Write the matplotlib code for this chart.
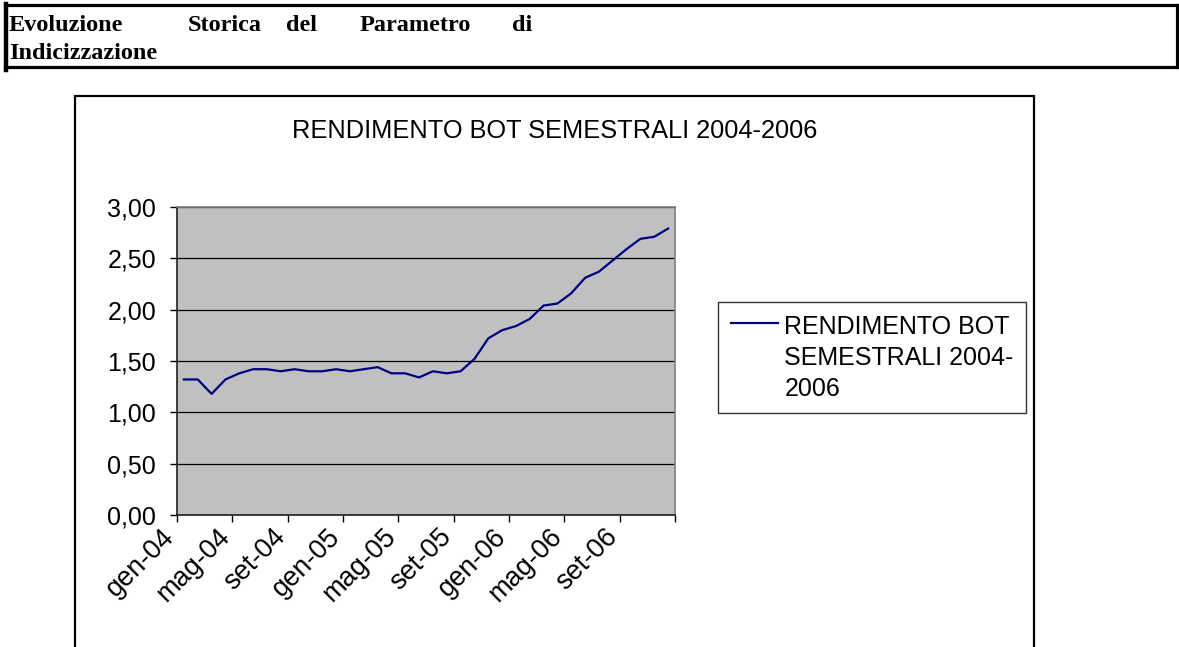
import matplotlib
matplotlib.use("Agg")
import matplotlib.pyplot as plt
import numpy as np
from matplotlib.patches import Rectangle
from matplotlib.lines import Line2D
from matplotlib.ticker import FuncFormatter
from matplotlib.legend_handler import HandlerLine2D
import matplotlib.transforms as mtransforms

# ---- data ----
months = ["gen-04", "feb-04", "mar-04", "apr-04", "mag-04", "giu-04",
          "lug-04", "ago-04", "set-04", "ott-04", "nov-04", "dic-04",
          "gen-05", "feb-05", "mar-05", "apr-05", "mag-05", "giu-05",
          "lug-05", "ago-05", "set-05", "ott-05", "nov-05", "dic-05",
          "gen-06", "feb-06", "mar-06", "apr-06", "mag-06", "giu-06",
          "lug-06", "ago-06", "set-06", "ott-06", "nov-06", "dic-06"]
rendimento = [1.32, 1.32, 1.18, 1.32, 1.38, 1.42, 1.42, 1.40, 1.42, 1.40,
              1.40, 1.42, 1.40, 1.42, 1.44, 1.38, 1.38, 1.34, 1.40, 1.38,
              1.40, 1.52, 1.72, 1.80, 1.84, 1.91, 2.04, 2.06, 2.16, 2.31,
              2.37, 2.48, 2.59, 2.69, 2.71, 2.79]
series_name = "RENDIMENTO BOT SEMESTRALI 2004-2006"
legend_label = "RENDIMENTO BOT\nSEMESTRALI 2004-\n2006"
yticks = [0.0, 0.5, 1.0, 1.5, 2.0, 2.5, 3.0]
header_words = ["Evoluzione", "Storica", "del", "Parametro", "di"]
header_line2 = "Indicizzazione"

W, H = 1179, 647
fig = plt.figure(figsize=(W / 100, H / 100), dpi=100)
fig.patch.set_facecolor("white")

def fx(px):
    return px / W

def fy(py):
    return 1 - py / H

# ---- header box ----
hdr_color = "black"
fig.add_artist(Line2D([fx(5), fx(1177)], [fy(5), fy(5)], color=hdr_color, lw=2.3))
fig.add_artist(Line2D([fx(5), fx(1177)], [fy(67), fy(67)], color=hdr_color, lw=2.3))
fig.add_artist(Line2D([fx(1177), fx(1177)], [fy(5), fy(67)], color=hdr_color, lw=2.3))
fig.add_artist(Line2D([fx(6), fx(6)], [fy(4), fy(70)], color=hdr_color, lw=3.2))

hdr_x = [9, 188, 286, 360, 512]
hdr_font = dict(family="Liberation Serif", weight="bold", size=17.5, color="black")
for w, x in zip(header_words, hdr_x):
    fig.text(fx(x), fy(31), w, ha="left", va="baseline", **hdr_font)
fig.text(fx(9), fy(59), header_line2, ha="left", va="baseline", **hdr_font)

# ---- chart box ----
fig.add_artist(Rectangle((fx(75), fy(660)), fx(1034) - fx(75), fy(96) - fy(660),
                         fill=False, edgecolor="black", lw=1.6))

fig.text(fx(555), fy(131), series_name, ha="center", va="center",
         family="Liberation Sans", size=18.3, color="black")

# ---- axes ----
left, right, top, bottom = 177, 675, 207, 515
ax = fig.add_axes([fx(left), fy(bottom), fx(right) - fx(left), fy(top) - fy(bottom)])
ax.set_facecolor("#C0C0C0")

n = len(rendimento)
x = np.arange(n) + 0.5
ax.plot(x, rendimento, color="#000080", lw=1.6, label=legend_label, zorder=3)

ax.set_xlim(0, n)
ax.set_ylim(0, 3)
ax.set_yticks(yticks)
ax.yaxis.set_major_formatter(FuncFormatter(lambda v, p: f"{v:.2f}".replace(".", ",")))
ax.grid(axis="y", color="black", lw=0.9)
ax.set_axisbelow(True)

xt = np.arange(0, n + 1, 4)
ax.set_xticks(xt)
ax.set_xticklabels([months[i] if i < n else "" for i in xt])

for s in ["top", "right"]:
    ax.spines[s].set_color("#808080")
    ax.spines[s].set_linewidth(1.2)
for s in ["left", "bottom"]:
    ax.spines[s].set_color("#202020")
    ax.spines[s].set_linewidth(1.2)

ax.tick_params(axis="y", direction="out", length=5, width=1, color="black",
               labelsize=18, pad=10)
ax.tick_params(axis="x", direction="out", length=5, width=1, color="black",
               labelsize=19.5, pad=0)
for lab in ax.get_yticklabels():
    lab.set_family("Liberation Sans")
offset = mtransforms.ScaledTranslation(3 / 100, -2 / 100, fig.dpi_scale_trans)
for lab in ax.get_xticklabels():
    lab.set_family("Liberation Sans")
    lab.set_rotation(45)
    lab.set_ha("right")
    lab.set_va("top")
    lab.set_transform(lab.get_transform() + offset)


class TopLineHandler(HandlerLine2D):
    """Place the legend line next to the first text line (as in Excel)."""
    def __init__(self, dy, **kw):
        super().__init__(**kw)
        self.dy = dy

    def create_artists(self, legend, orig_handle, xdescent, ydescent, width,
                       height, fontsize, trans):
        arts = super().create_artists(legend, orig_handle, xdescent, ydescent,
                                      width, height, fontsize, trans)
        for a in arts:
            a.set_ydata(np.asarray(a.get_ydata(), dtype=float) + self.dy)
        return arts


line_h = ax.get_lines()[0]
leg = ax.legend(handles=[line_h], labels=[legend_label],
                loc="upper left", bbox_to_anchor=(fx(718), fy(302)),
                bbox_transform=fig.transFigure, borderaxespad=0,
                prop=dict(family="Liberation Sans", size=18),
                frameon=True, fancybox=False, edgecolor="black",
                handlelength=1.9, handletextpad=0.25, borderpad=0.5,
                handler_map={line_h: TopLineHandler(dy=25.5)})
leg.get_frame().set_linewidth(1.0)
for t in leg.get_texts():
    t.set_linespacing(1.37)

fig.savefig("out.png", dpi=100)
